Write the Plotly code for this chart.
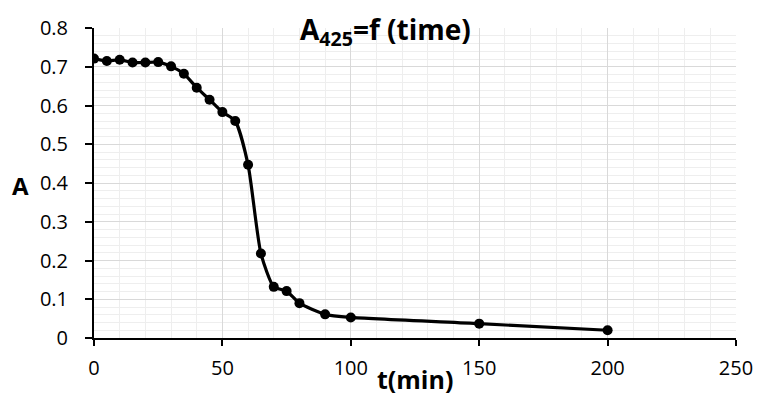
import plotly.graph_objects as go

# Absorbance at 425 nm over time
t_min = [0, 5, 10, 15, 20, 25, 30, 35, 40, 45, 50, 55, 60, 65, 70, 75, 80, 90, 100, 150, 200]
absorbance = [0.721, 0.715, 0.718, 0.711, 0.711, 0.712, 0.701, 0.682, 0.646, 0.615, 0.583,
              0.560, 0.447, 0.218, 0.132, 0.121, 0.090, 0.061, 0.053, 0.037, 0.020]

x_ticks = [0, 50, 100, 150, 200, 250]
y_ticks = [0, 0.1, 0.2, 0.3, 0.4, 0.5, 0.6, 0.7, 0.8]
y_tick_labels = ["0", "0.1", "0.2", "0.3", "0.4", "0.5", "0.6", "0.7", "0.8"]

font_family = "Open Sans, Noto Sans, sans-serif"

fig = go.Figure()
fig.add_trace(go.Scatter(
    x=t_min, y=absorbance,
    mode="lines+markers",
    line=dict(color="black", width=3.2, shape="spline", smoothing=0.6),
    marker=dict(color="black", size=10),
    showlegend=False,
))

fig.update_layout(
    width=765, height=399,
    margin=dict(l=94, r=18, t=28, b=61),
    paper_bgcolor="white", plot_bgcolor="white",
    font=dict(family=font_family, color="black", size=20),
    xaxis=dict(
        range=[0, 250], tickvals=x_ticks, ticktext=[str(v) for v in x_ticks],
        showgrid=True, gridcolor="#d9d9d9", gridwidth=1,
        minor=dict(dtick=10, tick0=0, showgrid=True, gridcolor="#eeeeee", gridwidth=1),
        showline=True, linecolor="black", linewidth=2,
        ticks="outside", ticklen=6, tickwidth=1.5, tickcolor="black",
        zeroline=False, ticklabelstandoff=5,
    ),
    yaxis=dict(
        range=[0, 0.8], tickvals=y_ticks, ticktext=y_tick_labels,
        showgrid=True, gridcolor="#d9d9d9", gridwidth=1,
        minor=dict(dtick=0.02, tick0=0, showgrid=True, gridcolor="#eeeeee", gridwidth=1),
        showline=True, linecolor="black", linewidth=2,
        ticks="outside", ticklen=7, tickwidth=1.5, tickcolor="black",
        zeroline=False, ticklabelstandoff=13,
    ),
)

plot_w = 765 - 94 - 18
plot_h = 399 - 28 - 61

# Chart title
fig.add_annotation(
    text="<b>A<sub>425</sub>=f (time)</b>",
    x=(391 - 94) / plot_w, y=1.0, xref="paper", yref="paper",
    xanchor="center", yanchor="middle", yshift=-3,
    showarrow=False, font=dict(size=28, family=font_family),
)
# Axis titles
fig.add_annotation(
    text="<b>t(min)</b>", x=0.5, y=0, xref="paper", yref="paper",
    xanchor="center", yanchor="middle", yshift=-41,
    showarrow=False, font=dict(size=25, family=font_family),
)
fig.add_annotation(
    text="<b>A</b>", x=0, y=(338 - 185) / plot_h, xref="paper", yref="paper",
    xanchor="center", yanchor="middle", xshift=-74,
    showarrow=False, font=dict(size=24, family=font_family),
)

fig.write_html("out.html")
